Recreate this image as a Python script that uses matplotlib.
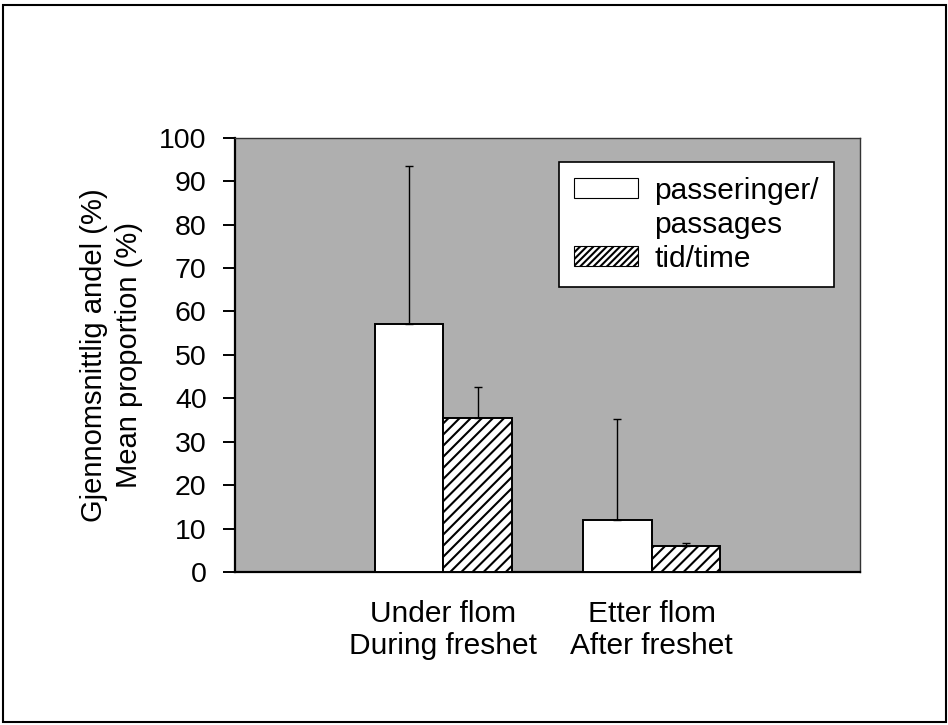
import matplotlib
matplotlib.use("Agg")
import matplotlib.pyplot as plt
from matplotlib.patches import Patch, Rectangle

plt.rcParams["font.family"] = ["Liberation Sans", "DejaVu Sans"]
plt.rcParams["hatch.linewidth"] = 1.5

# ---------- data ----------
categories = ["Under flom\nDuring freshet", "Etter flom\nAfter freshet"]
passages = [57.0, 12.0]
passages_err = [36.5, 23.2]
time_share = [35.5, 6.1]
time_err = [7.1, 0.6]
y_ticks = [0, 10, 20, 30, 40, 50, 60, 70, 80, 90, 100]

fig = plt.figure(figsize=(9.48, 7.25), dpi=100)
ax = fig.add_axes([0.248, 0.211, 0.659, 0.599])
ax.set_facecolor("#afafaf")

width = 0.33
x = list(range(len(categories)))
x_pass = [v - width / 2 for v in x]
x_time = [v + width / 2 for v in x]

ax.bar(x_pass, passages, width, color="white", edgecolor="black", linewidth=1.4, zorder=3)
ax.bar(x_time, time_share, width, color="white", edgecolor="black", linewidth=1.4,
       hatch="///", zorder=3)
ax.errorbar(x_pass, passages, yerr=[[0] * len(passages), passages_err], fmt="none",
            ecolor="black", elinewidth=1.0, capsize=3, capthick=1.0, zorder=4)
ax.errorbar(x_time, time_share, yerr=[[0] * len(time_share), time_err], fmt="none",
            ecolor="black", elinewidth=1.0, capsize=3, capthick=1.0, zorder=4)

ax.set_xlim(-1, 2)
ax.set_ylim(0, 100)
ax.set_yticks(y_ticks)
ax.set_xticks(x)
ax.set_xticklabels(categories, fontsize=21.5, linespacing=1.2)
ax.tick_params(axis="x", length=0, pad=20)
ax.tick_params(axis="y", labelsize=20.5, length=8.5, width=1.4, direction="out", pad=12)

for side in ("left", "bottom"):
    ax.spines[side].set_linewidth(1.6)
    ax.spines[side].set_color("black")
for side in ("top", "right"):
    ax.spines[side].set_linewidth(1.0)
    ax.spines[side].set_color("#333333")

ax.set_ylabel("Gjennomsnittlig andel (%)\nMean proportion (%)", fontsize=21,
              linespacing=1.3)
ax.yaxis.set_label_coords(-0.148, 0.5)

# legend: two-line label kept on top row, as in the original
handles = [
    Patch(facecolor="white", edgecolor="black", linewidth=0.8),
    Patch(facecolor="none", edgecolor="none"),
    Patch(facecolor="white", edgecolor="black", linewidth=0.8, hatch="/////"),
]
labels = ["passeringer/", "passages", "tid/time"]
leg = ax.legend(handles, labels, loc="upper right", bbox_to_anchor=(0.958, 0.945),
                borderaxespad=0, fontsize=21.5, frameon=True, fancybox=False,
                edgecolor="black", framealpha=1, handlelength=2.15, handleheight=0.62,
                handletextpad=0.55, labelspacing=0.2, borderpad=0.5)
leg.get_frame().set_linewidth(1.2)

# outer border around the whole figure
fig.patches.append(Rectangle((3 / 948, 3 / 725), 943 / 948, 717 / 725,
                             transform=fig.transFigure, fill=False,
                             edgecolor="black", linewidth=1.5))

fig.savefig("out.png", dpi=100)
